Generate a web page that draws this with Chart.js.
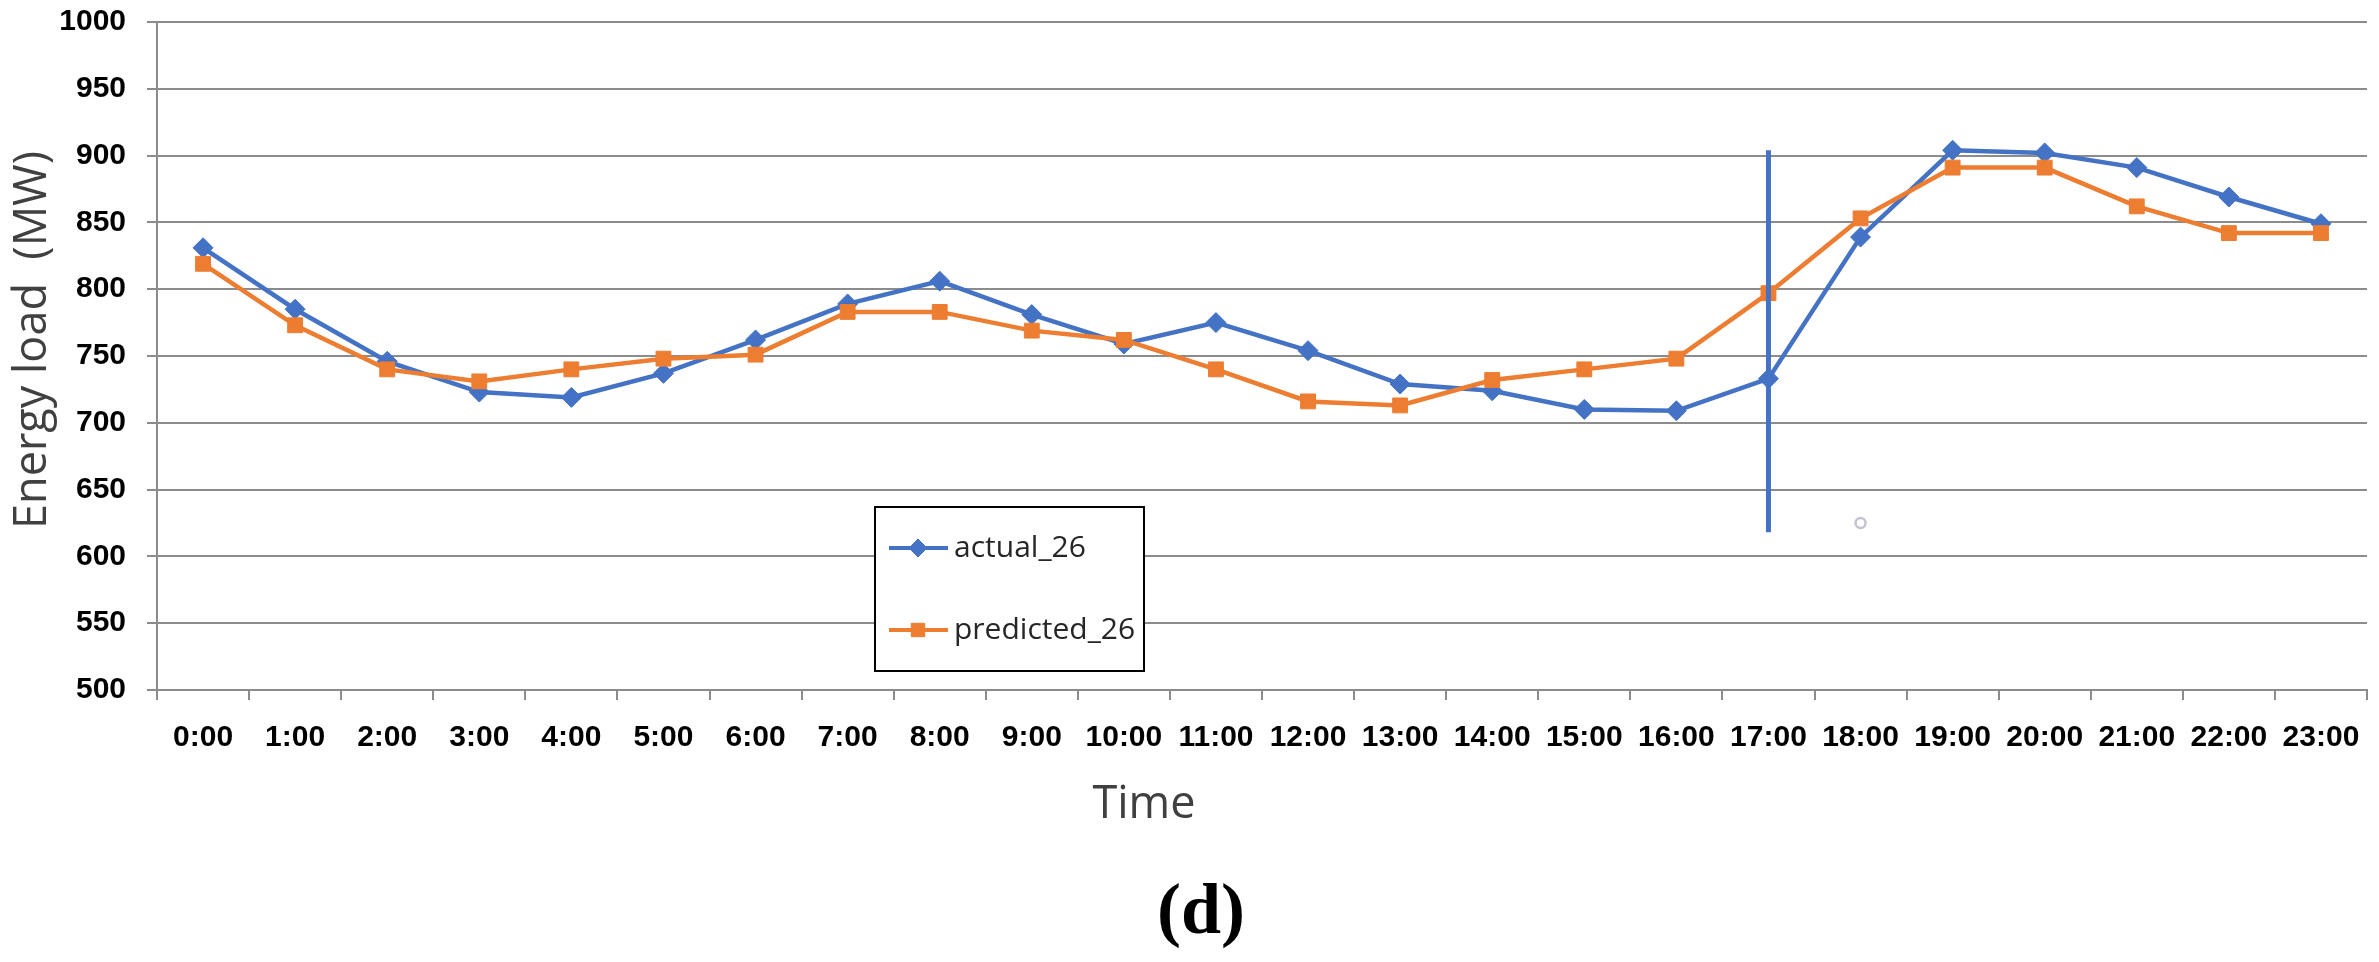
<!DOCTYPE html>
<html>
<head>
<meta charset="utf-8">
<script src="https://cdn.jsdelivr.net/npm/chart.js@4.4.1/dist/chart.umd.min.js"></script>
<style>
  html, body { margin: 0; padding: 0; background: #fff; }
  #wrap { width: 2379px; height: 962px; }
</style>
</head>
<body>
<div id="wrap"><canvas id="loadChart" width="2379" height="962"></canvas></div>
<script>
// hourly load, day 26
const hours = ['0:00', '1:00', '2:00', '3:00', '4:00', '5:00', '6:00', '7:00', '8:00', '9:00', '10:00', '11:00',
  '12:00', '13:00', '14:00', '15:00', '16:00', '17:00', '18:00', '19:00', '20:00', '21:00', '22:00', '23:00'];
const actual26 = [831, 785, 746, 723, 719, 737, 762, 789, 806, 781, 759, 775,
  754, 729, 724, 710, 709, 733, 839, 904, 902, 891, 869, 849];
const predicted26 = [819, 773, 740, 731, 740, 748, 751, 783, 783, 769, 762, 740,
  716, 713, 732, 740, 748, 797, 853, 891, 891, 862, 842, 842];
const loadTicks = [500, 550, 600, 650, 700, 750, 800, 850, 900, 950, 1000];

// the blue vertical marker at 17:00 and the stray point at 18:00
const cutHour = '17:00';
const cutRange = [618, 904];
const strayHour = '18:00';
const strayValue = 625;

const blue = '#4472C4';
const orange = '#ED7D31';
const gridGray = '#8c8c8c';

const decorations = {
  id: 'decorations',
  afterDraw(chart) {
    const ctx = chart.ctx;
    ctx.save();

    // axis titles
    ctx.fillStyle = '#404040';
    ctx.font = '45px "Open Sans"';
    ctx.textAlign = 'center';
    ctx.textBaseline = 'middle';
    ctx.fillText('Time', 1144, 805);
    ctx.save();
    ctx.translate(33, 340);
    ctx.rotate(-Math.PI / 2);
    ctx.fillText('Energy load  (MW)', 0, 0);
    ctx.restore();

    ctx.fillStyle = '#000';
    ctx.font = 'bold 72px "Liberation Serif"';
    ctx.fillText('(d)', 1201, 914);

    // legend box
    ctx.fillStyle = '#fff';
    ctx.fillRect(875, 507, 269, 164);
    ctx.strokeStyle = '#000';
    ctx.lineWidth = 2;
    ctx.strokeRect(875, 507, 269, 164);

    const rows = [548, 630];
    chart.data.datasets.filter(d => d.inLegend).forEach((ds, i) => {
      const y = rows[i];
      ctx.strokeStyle = ds.borderColor;
      ctx.lineWidth = 4;
      ctx.beginPath();
      ctx.moveTo(889, y);
      ctx.lineTo(948, y);
      ctx.stroke();
      ctx.fillStyle = ds.borderColor;
      ctx.lineWidth = 1;
      Chart.helpers.drawPoint(ctx, {
        pointStyle: ds.pointStyle, radius: ds.pointRadius - 1, borderWidth: 1, rotation: 0
      }, 918, y);
      ctx.fillStyle = '#262626';
      ctx.font = '30px "Open Sans"';
      ctx.textAlign = 'left';
      ctx.textBaseline = 'middle';
      ctx.fillText(ds.label, 954, y);
    });
    ctx.restore();
  }
};

const tickFont = { family: 'Liberation Sans', weight: 'bold', size: 30 };

new Chart(document.getElementById('loadChart'), {
  type: 'line',
  data: {
    labels: hours,
    datasets: [
      {
        label: 'cut',
        data: [{ x: cutHour, y: cutRange[0] }, { x: cutHour, y: cutRange[1] }],
        borderColor: blue,
        borderWidth: 5,
        pointRadius: 0,
        order: 0
      },
      {
        label: 'actual_26',
        data: actual26,
        inLegend: true,
        borderColor: blue,
        backgroundColor: blue,
        borderWidth: 4.5,
        pointStyle: 'rectRot',
        pointRadius: 10,
        pointBorderWidth: 1,
        order: 2
      },
      {
        label: 'predicted_26',
        data: predicted26,
        inLegend: true,
        borderColor: orange,
        backgroundColor: orange,
        borderWidth: 4.5,
        pointStyle: 'rect',
        pointRadius: 10.5,
        pointBorderWidth: 1,
        order: 1
      },
      {
        label: 'stray',
        data: [{ x: strayHour, y: strayValue }],
        showLine: false,
        pointStyle: 'circle',
        pointRadius: 5,
        pointBorderWidth: 2.5,
        borderColor: '#c3c3d3',
        backgroundColor: '#fff',
        order: 3
      }
    ]
  },
  options: {
    responsive: false,
    animation: false,
    devicePixelRatio: 1,
    layout: { padding: { top: 22, right: 12, left: 0, bottom: 0 } },
    plugins: { legend: { display: false }, tooltip: { enabled: false } },
    scales: {
      x: {
        offset: true,
        grid: { offset: true, drawOnChartArea: false, tickLength: 10, color: gridGray, lineWidth: 2 },
        border: { color: gridGray, width: 2 },
        ticks: { color: '#000', font: tickFont, padding: 20, maxRotation: 0, autoSkip: false },
        afterFit(s) { s.height = 272; s.paddingLeft = 0; s.paddingRight = 0; }
      },
      y: {
        min: loadTicks[0],
        max: loadTicks[loadTicks.length - 1],
        afterBuildTicks(s) { s.ticks = loadTicks.map(v => ({ value: v })); },
        grid: { color: gridGray, lineWidth: 2, tickLength: 10 },
        border: { color: gridGray, width: 2 },
        ticks: { color: '#000', font: tickFont, padding: 21, callback: v => String(v) },
        afterFit(s) { s.width = 157; s.paddingTop = 0; s.paddingBottom = 0; }
      }
    }
  },
  plugins: [decorations]
});
</script>
</body>
</html>
